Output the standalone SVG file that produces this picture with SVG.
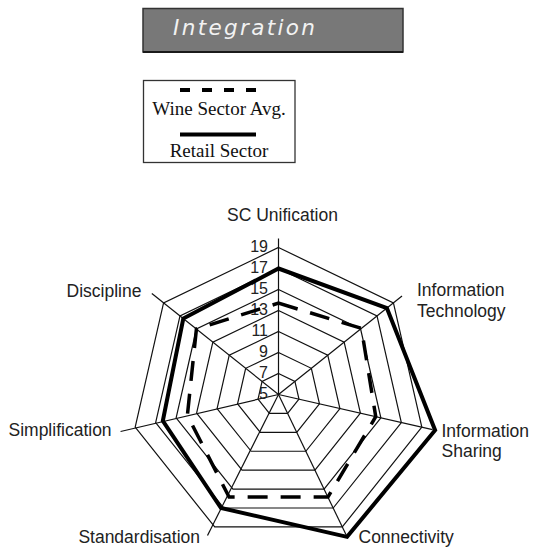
<svg xmlns="http://www.w3.org/2000/svg" width="533" height="551" viewBox="0 0 533 551">
  <defs>
    <style>
      .ring { fill: none; stroke: #111; stroke-width: 1.2; stroke-linejoin: miter; }
      .axis { stroke: #111; stroke-width: 1.2; }
      .tick { font-family: "Liberation Sans", Arial, sans-serif; font-size: 16px; fill: #222; text-anchor: end; }
      .lbl { font-family: "Liberation Sans", Arial, sans-serif; font-size: 17.5px; fill: #222; }
      .leg { font-family: "Liberation Serif", "Times New Roman", serif; font-size: 19px; fill: #111; text-anchor: middle; }
      .retail { fill: none; stroke: #000; stroke-width: 4; stroke-linejoin: miter; }
      .wine { fill: none; stroke: #000; stroke-width: 3.5; stroke-dasharray: 20 13; stroke-linejoin: miter; }
    </style>
  </defs>
  <rect width="533" height="551" fill="#fff"/>

  <g id="title">
    <rect x="143" y="8.5" width="260" height="43.5" fill="#787878" stroke="#333" stroke-width="1.5"/>
    <line x1="143" y1="52" x2="403" y2="52" stroke="#1a1a1a" stroke-width="2"/>
    <text x="173" y="35" font-family="'DejaVu Sans', Verdana, sans-serif" font-size="21.5" font-style="italic" fill="#f2f2f2" textLength="142" lengthAdjust="spacing">Integration</text>
  </g>

  <g id="legend">
    <rect x="143.5" y="80.5" width="151.5" height="82" fill="#fff" stroke="#333" stroke-width="1.3"/>
    <line x1="180" y1="90" x2="256" y2="90" stroke="#000" stroke-width="4" stroke-dasharray="10 12"/>
    <text class="leg" x="219" y="115">Wine Sector Avg.</text>
    <line x1="180" y1="134.5" x2="256" y2="134.5" stroke="#000" stroke-width="4"/>
    <text class="leg" x="219" y="157">Retail Sector</text>
  </g>

  <g id="grid">
    <polygon class="ring" points="278.5,373.5 294.92,381.41 298.97,399.17 287.61,413.42 269.39,413.42 258.03,399.17 262.08,381.41"/>
    <polygon class="ring" points="278.5,352.5 311.34,368.31 319.45,403.85 296.72,432.34 260.28,432.34 237.55,403.85 245.66,368.31"/>
    <polygon class="ring" points="278.5,331.5 327.76,355.22 339.92,408.52 305.83,451.26 251.17,451.26 217.08,408.52 229.24,355.22"/>
    <polygon class="ring" points="278.5,310.5 344.17,342.13 360.39,413.19 314.95,470.18 242.05,470.18 196.61,413.19 212.83,342.13"/>
    <polygon class="ring" points="278.5,289.5 360.59,329.03 380.87,417.87 324.06,489.10 232.94,489.10 176.13,417.87 196.41,329.03"/>
    <polygon class="ring" points="278.5,268.5 377.01,315.94 401.34,422.54 333.17,508.02 223.83,508.02 155.66,422.54 179.99,315.94"/>
    <polygon class="ring" points="278.5,247.5 393.43,302.85 421.82,427.21 342.28,526.94 214.72,526.94 135.19,427.21 163.57,302.85"/>
  </g>

  <g id="connectors">
    <line class="axis" x1="278.5" y1="394.5" x2="278.5" y2="238.5"/>
    <line class="axis" x1="278.5" y1="394.5" x2="402.03" y2="295.99"/>
    <line class="axis" x1="278.5" y1="394.5" x2="432.54" y2="429.66"/>
    <line class="axis" x1="278.5" y1="394.5" x2="347.05" y2="536.85"/>
    <line class="axis" x1="278.5" y1="394.5" x2="207.5" y2="535.5"/>
    <line class="axis" x1="278.5" y1="394.5" x2="120.56" y2="431.5"/>
    <line class="axis" x1="278.5" y1="394.5" x2="151.84" y2="293.49"/>
  </g>

  <g id="ticks">
    <text class="tick" x="268" y="251.5">19</text>
    <text class="tick" x="268" y="272.5">17</text>
    <text class="tick" x="268" y="293.5">15</text>
    <text class="tick" x="268" y="314.5">13</text>
    <text class="tick" x="268" y="335.5">11</text>
    <text class="tick" x="268" y="356.5">9</text>
    <text class="tick" x="268" y="377.5">7</text>
    <text class="tick" x="268" y="398.5">5</text>
  </g>

  <g id="series">
    <polygon id="wine-sector" class="wine" points="278.5,303.15 361.41,328.38 375.75,416.7 327.92,497.12 229.08,497.12 187.39,415.29 196.41,329.03"/>
    <polygon id="retail-sector" class="retail" points="278.5,268.5 386.86,308.08 435.12,430.25 347.05,536.85 221,508 162.83,420.9 183.3,318.6"/>
  </g>

  <g id="axis-labels">
    <text class="lbl" x="282.5" y="221" text-anchor="middle">SC Unification</text>
    <text class="lbl" x="417" y="296">Information</text>
    <text class="lbl" x="417" y="317">Technology</text>
    <text class="lbl" x="441.5" y="436.5">Information</text>
    <text class="lbl" x="441.5" y="457">Sharing</text>
    <text class="lbl" x="358.5" y="543">Connectivity</text>
    <text class="lbl" x="200" y="543" text-anchor="end">Standardisation</text>
    <text class="lbl" x="8.5" y="435.5">Simplification</text>
    <text class="lbl" x="66.5" y="296.5">Discipline</text>
  </g>
</svg>
